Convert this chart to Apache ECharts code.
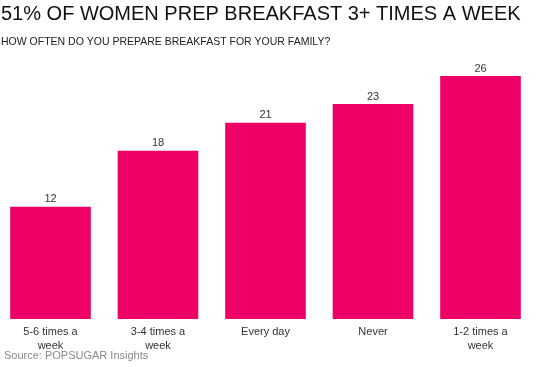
<!DOCTYPE html>
<html><head><meta charset="utf-8">
<script src="https://cdn.jsdelivr.net/npm/echarts@6/dist/echarts.min.js"></script>
<style>html,body{margin:0;padding:0;background:#fff;overflow:hidden}#c{width:554px;height:367px;margin-left:-4px}</style>
</head><body><div id="c"></div>
<script>
const categories = ['5-6 times a\nweek', '3-4 times a\nweek', 'Every day', 'Never', '1-2 times a\nweek'];
const values = [12, 18, 21, 23, 26];
const titleText = '51% OF WOMEN PREP BREAKFAST 3+ TIMES A WEEK';
const subtitleText = 'HOW OFTEN DO YOU PREPARE BREAKFAST FOR YOUR FAMILY?';
const sourceText = 'Source: POPSUGAR Insights';
const chart = echarts.init(document.getElementById('c'));
const ff = '"Liberation Sans", Arial, sans-serif';
chart.setOption({
  animation: false,
  title: [
    {text: titleText, left: 5, top: 4, padding: 0, textStyle: {fontFamily: ff, fontSize: 20, fontWeight: 'normal', color: '#111'}},
    {text: subtitleText, left: 5, top: 37, padding: 0, textStyle: {fontFamily: ff, fontSize: 10.5, fontWeight: 'normal', color: '#222'}},
    {text: sourceText, left: 8, top: 350, padding: 0, textStyle: {fontFamily: ff, fontSize: 11, fontWeight: 'normal', color: '#888'}}
  ],
  grid: {left: 0.75, right: 15.75, top: 76, bottom: 48, containLabel: false},
  xAxis: {type: 'category', data: categories, axisLine: {show: false}, axisTick: {show: false},
    axisLabel: {fontFamily: ff, fontSize: 11, color: '#333', margin: 6, lineHeight: 14, interval: 0}},
  yAxis: {type: 'value', min: 0, max: 26, show: false, splitLine: {show: false}},
  series: [{type: 'bar', data: values, barCategoryGap: '25%', itemStyle: {color: '#EE0066'},
    label: {show: true, position: 'top', distance: 2, fontFamily: ff, fontSize: 11, color: '#333'}}]
});
</script></body></html>
